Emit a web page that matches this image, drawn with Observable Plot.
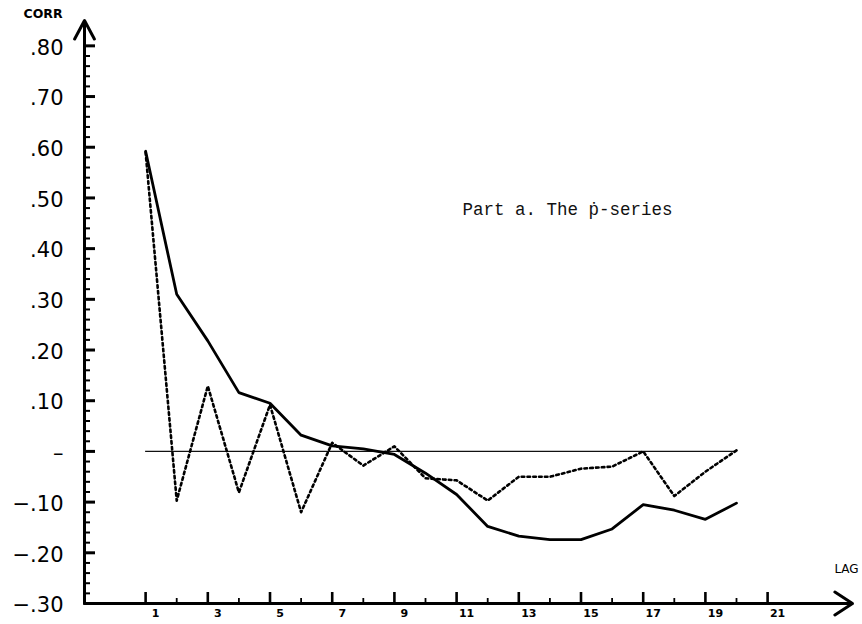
<!DOCTYPE html>
<html>
<head>
<meta charset="utf-8">
<script src="https://cdn.jsdelivr.net/npm/d3@7"></script>
<script src="https://cdn.jsdelivr.net/npm/@observablehq/plot@0.6"></script>
<style>
  html, body { margin: 0; padding: 0; background: #fff; }
  #chart { width: 862px; height: 624px; }
</style>
</head>
<body>
<div id="chart"></div>
<script>
// ---- data ----
const lags = [1, 2, 3, 4, 5, 6, 7, 8, 9, 10, 11, 12, 13, 14, 15, 16, 17, 18, 19, 20];
const solidCorr = [0.592, 0.31, 0.218, 0.116, 0.095, 0.032, 0.011, 0.005, -0.006, -0.043, -0.085, -0.148, -0.167, -0.174, -0.174, -0.153, -0.105, -0.116, -0.134, -0.102];
const dottedCorr = [0.59, -0.097, 0.129, -0.081, 0.092, -0.12, 0.017, -0.028, 0.01, -0.053, -0.057, -0.097, -0.05, -0.05, -0.034, -0.03, 0.0, -0.088, -0.04, 0.002];

const yMajorTicks = [-0.30, -0.20, -0.10, 0, 0.10, 0.20, 0.30, 0.40, 0.50, 0.60, 0.70, 0.80];
const yTickLabels = ["\u2212.30", "\u2212.20", "\u2212.10", "\u2013", ".10", ".20", ".30", ".40", ".50", ".60", ".70", ".80"];
const yMinorTicks = d3.range(-0.28, 0.79, 0.02).map(v => Math.round(v * 100) / 100).filter(v => Math.round(v * 100) % 10 !== 0);
const xMajorTicks = [1, 3, 5, 7, 9, 11, 13, 15, 17, 19, 21];
const xMinorTicks = [2, 4, 6, 8, 10, 12, 14, 16, 18, 20];

const yLabel = "CORR";
const xLabel = "LAG";
const annotation = "Part a. The \u1E57-series";

// ---- scales / layout ----
const W = 862, H = 624;
const mL = 84, mR = 10, mT = 20, mB = 21;
const xDomain = [-0.965, 23.73];
const yDomain = [-0.30, 0.85];
const pxPerX = (W - mL - mR) / (xDomain[1] - xDomain[0]);
const pxPerY = (H - mT - mB) / (yDomain[1] - yDomain[0]);
const x0 = xDomain[0], y0 = yDomain[0];

const solid = lags.map((l, i) => ({lag: l, corr: solidCorr[i]}));
const dotted = lags.map((l, i) => ({lag: l, corr: dottedCorr[i]}));
const yLabelData = yMajorTicks.map((v, i) => ({v, label: yTickLabels[i]}));

const axes = [
  {x1: x0, y1: y0, x2: x0, y2: yDomain[1]},
  {x1: x0, y1: y0, x2: xDomain[1], y2: y0}
];

const chart = Plot.plot({
  width: W,
  height: H,
  marginLeft: mL,
  marginRight: mR,
  marginTop: mT,
  marginBottom: mB,
  x: {domain: xDomain, axis: null},
  y: {domain: yDomain, axis: null},
  style: {background: "white", overflow: "visible"},
  marks: [
    // zero reference line
    Plot.ruleY([0], {x1: lags[0], x2: lags[lags.length - 1], stroke: "#111", strokeWidth: 1.3}),
    // axes with open arrowheads
    Plot.arrow(axes.slice(0, 1), {x1: "x1", y1: "y1", x2: "x2", y2: "y2", stroke: "#000", strokeWidth: 3, headLength: 10.5, headAngle: 56}),
    Plot.arrow(axes.slice(1, 2), {x1: "x1", y1: "y1", x2: "x2", y2: "y2", stroke: "#000", strokeWidth: 3, headLength: 10.5, headAngle: 66}),
    // y ticks (inward)
    Plot.ruleY(yMajorTicks, {y: d => d, x1: () => x0, x2: () => x0 + 11 / pxPerX, stroke: "#000", strokeWidth: 3}),
    Plot.ruleY(yMinorTicks, {y: d => d, x1: () => x0, x2: () => x0 + 6 / pxPerX, stroke: "#000", strokeWidth: 2}),
    // x ticks (inward)
    Plot.ruleX(xMajorTicks, {x: d => d, y1: () => y0, y2: () => y0 + 11 / pxPerY, stroke: "#000", strokeWidth: 2.6}),
    Plot.ruleX(xMinorTicks, {x: d => d, y1: () => y0, y2: () => y0 + 5 / pxPerY, stroke: "#000", strokeWidth: 1.8}),
    // y tick labels
    Plot.text(yLabelData, {x: () => x0, y: "v", text: "label", textAnchor: "end", dx: -21, dy: 2, fontSize: 21, fontFamily: "DejaVu Sans", fill: "#000"}),
    // x tick labels
    Plot.text(xMajorTicks, {x: d => d, y: () => y0, text: d => String(d), dx: 10, dy: 10, fontSize: 11, fontWeight: "bold", fontFamily: "DejaVu Sans", fill: "#000"}),
    // axis titles
    Plot.text([yLabel], {x: () => x0, y: () => yDomain[1], text: d => d, textAnchor: "start", dx: -61, dy: -7, fontSize: 12.5, fontWeight: "bold", fontFamily: "DejaVu Sans", fill: "#000"}),
    Plot.text([xLabel], {x: () => xDomain[1], y: () => y0, text: d => d, textAnchor: "middle", dx: -6, dy: -34, fontSize: 12, fontFamily: "DejaVu Sans", fill: "#000"}),
    // series
    Plot.line(solid, {x: "lag", y: "corr", stroke: "#000", strokeWidth: 2.8, strokeLinejoin: "round", strokeLinecap: "round"}),
    Plot.line(dotted, {x: "lag", y: "corr", stroke: "#000", strokeWidth: 2.6, strokeDasharray: "2.6,3.2"}),
    // annotation
    Plot.text([annotation], {x: () => 11.19, y: () => 0.477, text: d => d, textAnchor: "start", fontSize: 17.5, fontFamily: "Liberation Mono, DejaVu Sans Mono, monospace", fill: "#111"})
  ]
});

document.getElementById("chart").appendChild(chart);
</script>
</body>
</html>
